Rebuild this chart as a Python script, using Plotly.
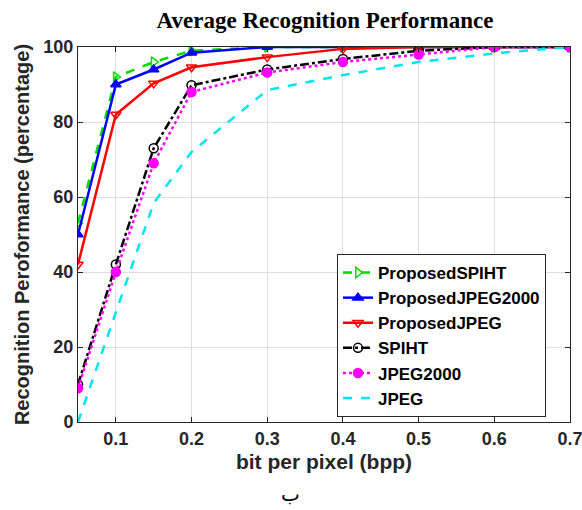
import plotly.graph_objects as go

bpp = [0.05, 0.1, 0.15, 0.2, 0.3, 0.4, 0.5, 0.6, 0.7]
proposed_spiht = [53, 92, 96, 99, 100, 100, 100, 100, 100]
proposed_jpeg2000 = [50, 90, 94, 98.5, 100, 100, 100, 100, 100]
proposed_jpeg = [42, 82, 90.3, 94.6, 97.3, 99.5, 100, 100, 100]
spiht = [10, 42, 73, 89.8, 94, 96.8, 99, 100, 100]
jpeg2000 = [9, 40, 69, 88, 93.2, 96, 98, 100, 100]
jpeg = [0, 29, 58.4, 72, 88.5, 92.5, 96, 98.3, 100]

series = [
    ("ProposedSPIHT", proposed_spiht, "#00dd00", "dash", "triangle-right-open"),
    ("ProposedJPEG2000", proposed_jpeg2000, "#0000ff", "solid", "triangle-up"),
    ("ProposedJPEG", proposed_jpeg, "#ff0000", "solid", "triangle-down-open"),
    ("SPIHT", spiht, "#000000", "dashdot", "circle-open"),
    ("JPEG2000", jpeg2000, "#ff00ff", "dot", "circle"),
    ("JPEG", jpeg, "#00e5ee", "dash", None),
]

fig = go.Figure()
for name, vals, color, dash, sym in series:
    fig.add_trace(go.Scatter(
        x=bpp, y=vals, name="<b>" + name + "</b>",
        mode="lines+markers" if sym else "lines",
        line=dict(color=color, width=2.5, dash=dash),
        marker=dict(symbol=sym if sym else "circle", size=9, color=color,
                    line=dict(color=color, width=1.5)),
    ))

W, H = 582, 510
sans = "Liberation Sans, Arial"
axis_font = dict(family=sans, size=18, color="#262626")
fig.update_layout(
    width=W, height=H,
    margin=dict(l=78, r=12, t=47, b=88, autoexpand=False),
    paper_bgcolor="white", plot_bgcolor="white",
    title=dict(text="<b>Average Recognition Performance</b>",
               font=dict(family="Liberation Serif, Times New Roman", size=23, color="#000"),
               x=325 / W, xanchor="center", y=1 - 20 / H, yanchor="middle"),
    xaxis=dict(range=[0.05, 0.7], tickvals=[0.1, 0.2, 0.3, 0.4, 0.5, 0.6, 0.7],
               ticktext=["<b>0.1</b>", "<b>0.2</b>", "<b>0.3</b>", "<b>0.4</b>",
                         "<b>0.5</b>", "<b>0.6</b>", "<b>0.7</b>"],
               ticklabeloverflow="allow", automargin=False,
               showgrid=True, gridcolor="#dddddd", gridwidth=1,
               showline=True, linecolor="#262626", linewidth=1, mirror="ticks",
               ticks="inside", ticklen=5, tickcolor="#262626",
               tickfont=axis_font, zeroline=False,
               title=dict(text="<b>bit per pixel (bpp)</b>",
                          font=dict(family=sans, size=21, color="#262626"),
                          standoff=6)),
    yaxis=dict(range=[0, 100], tickvals=[0, 20, 40, 60, 80, 100],
               ticktext=["<b>0</b>", "<b>20</b>", "<b>40</b>", "<b>60</b>", "<b>80</b>", "<b>100</b>"],
               automargin=False,
               showgrid=True, gridcolor="#dddddd", gridwidth=1,
               showline=True, linecolor="#262626", linewidth=1, mirror="ticks",
               ticks="inside", ticklen=5, tickcolor="#262626",
               tickfont=axis_font, zeroline=False,
               title=dict(text="<b>Recognition Peroformance (percentage)</b>",
                          font=dict(family=sans, size=20, color="#262626"),
                          standoff=8)),
    legend=dict(x=0.5264, y=0.448, xanchor="left", yanchor="top",
                bgcolor="white", bordercolor="#262626", borderwidth=1,
                font=dict(family=sans, size=17, color="#000"),
                tracegroupgap=0, itemwidth=30),
    showlegend=True,
)
fig.add_annotation(text="ب", xref="paper", yref="paper", x=(290 - 78) / 492, y=-(494 - 422) / 375,
                   showarrow=False, font=dict(family="DejaVu Sans", size=20, color="#000"),
                   xanchor="center", yanchor="middle")
fig.write_html("out.html", config={"displayModeBar": False},
               post_script="document.body.style.margin='0';document.body.style.overflow='hidden';")
